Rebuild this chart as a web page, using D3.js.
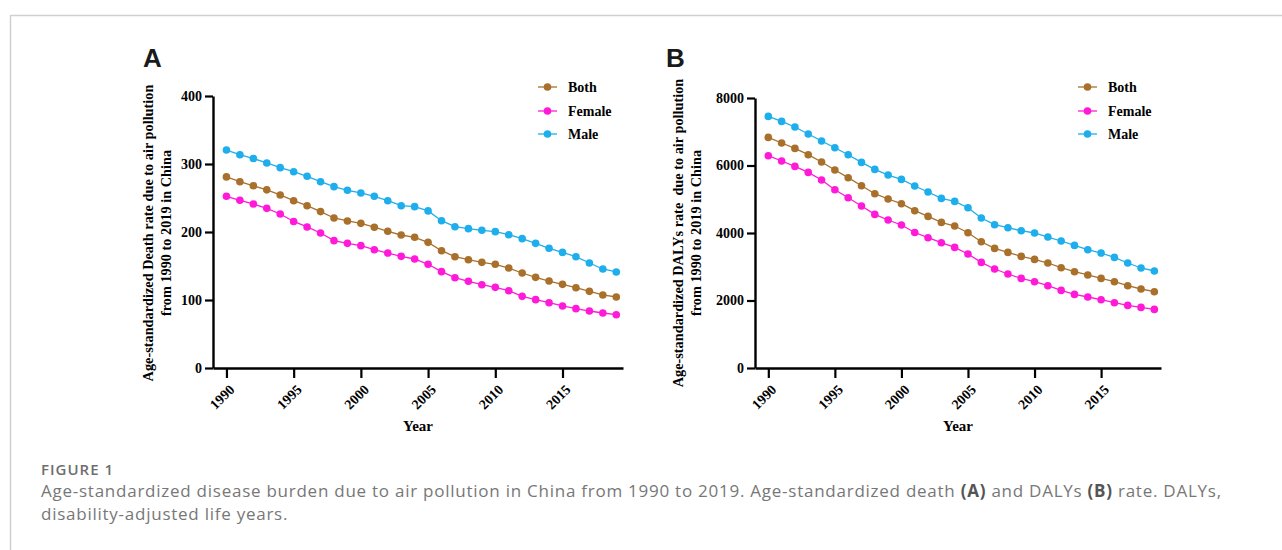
<!DOCTYPE html>
<html><head><meta charset="utf-8">
<script src="https://cdn.jsdelivr.net/npm/d3@7"></script>
<style>
html,body{margin:0;padding:0;background:#fff;}
svg{display:block;}
</style></head>
<body>
<svg id="c" width="1282" height="550"></svg>
<script>
const years = d3.range(1990, 2020);
const seriesNames = ["Both", "Female", "Male"];
const seriesColors = ["#A8702A", "#FF1AD9", "#1EAEEC"];

// Panel A: age-standardized death rate
const deathBoth = [281,274,268,262,254.5,246,238.7,230,220.6,216.2,212.7,207,201,195.6,192.2,184.8,172.5,163.7,159.3,155.4,152.5,147,139.7,133.3,127.9,123,118.1,112.7,107.4,104.4];
const deathFemale = [252.5,246.6,241.2,234.8,226.5,215.5,207.4,198.5,187.3,183.3,179.9,174,169.1,164.2,160.3,152.5,141.7,132.8,127.5,122.5,118.6,113.7,105.4,100.5,96,91.2,87.3,83.8,80.9,78.4];
const deathMale = [320.5,313.7,308,301.5,294.6,288.7,281.9,274,266.7,261.3,257.4,252.5,246,238.7,237.3,231,216.6,207.8,204.9,202.5,200.5,196,190.2,183.3,176,170,163.7,154.4,145.6,141.2];

// Panel B: age-standardized DALYs rate
const dalyBoth = [6833,6667,6507,6320,6104,5867,5639,5401,5164,5007,4868,4661,4492,4314,4207,4009,3742,3544,3425,3307,3218,3111,2972,2853,2756,2655,2557,2439,2341,2261];
const dalyFemale = [6290,6133,5973,5796,5570,5283,5046,4800,4551,4385,4237,4015,3861,3713,3574,3378,3129,2933,2785,2655,2557,2439,2299,2181,2104,2024,1935,1855,1796,1736];
const dalyMale = [7455,7307,7141,6933,6726,6527,6320,6092,5885,5718,5588,5393,5215,5025,4936,4750,4444,4246,4157,4068,4000,3881,3763,3633,3505,3407,3277,3111,2963,2874];

const xTicks = [1990, 1995, 2000, 2005, 2010, 2015];
const deathTicks = [0, 100, 200, 300, 400];
const dalyTicks = [0, 2000, 4000, 6000, 8000];

const svg = d3.select("#c");
const serif = "'Liberation Serif','Times New Roman',serif";

// frame
svg.append("line").attr("x1",10).attr("x2",1282).attr("y1",15.5).attr("y2",15.5).attr("stroke","#d0d0d0").attr("stroke-width",1.5);
svg.append("line").attr("x1",10.5).attr("x2",10.5).attr("y1",15).attr("y2",550).attr("stroke","#d0d0d0").attr("stroke-width",1.5);

function panel(opt){
  const g = svg.append("g");
  const x = d3.scaleLinear().domain([1989, 2019.5]).range(opt.xr);
  const y = d3.scaleLinear().domain(opt.ydom).range([368, opt.ytop]);

  g.append("text").attr("x", opt.letterX).attr("y", 67).text(opt.letter)
    .attr("font-family","'Liberation Sans',Arial,sans-serif").attr("font-weight","bold")
    .attr("font-size", 26).attr("fill","#1a1a1a");

  const ya = g.append("g").attr("transform", `translate(${opt.xr[0]},0)`)
    .call(d3.axisLeft(y).tickValues(opt.yticks).tickSize(8).tickSizeOuter(0).tickPadding(3).tickFormat(d3.format("d")));
  const xa = g.append("g").attr("transform", `translate(0,368)`)
    .call(d3.axisBottom(x).tickValues(xTicks).tickSize(10).tickSizeOuter(0).tickFormat(d3.format("d")));
  [ya, xa].forEach(a => {
    a.select(".domain").attr("stroke","#000").attr("stroke-width",2.4);
    a.selectAll(".tick line").attr("stroke","#000").attr("stroke-width",2.2);
    a.selectAll("text").attr("font-family", serif).attr("font-weight","bold").attr("font-size",14).attr("fill","#000");
  });
  xa.selectAll(".tick text").attr("text-anchor","end").attr("dy","0.35em")
    .attr("transform","translate(5,19) rotate(-45)").attr("y",0).attr("x",0);

  g.append("text").attr("x", (opt.xr[0]+opt.xr[1])/2).attr("y", 431).attr("text-anchor","middle")
    .attr("font-family", serif).attr("font-weight","bold").attr("font-size",15).text("Year");
  const yt = g.append("text").attr("transform", `translate(${opt.ytx},233) rotate(-90)`).attr("text-anchor","middle")
    .attr("font-family", serif).attr("font-weight","bold").attr("font-size",14.3);
  yt.append("tspan").attr("x",0).attr("y",0).text(opt.ytitle1).style("white-space","pre");
  yt.append("tspan").attr("x",0).attr("y",18).text(opt.ytitle2);

  const line = d3.line().x((d,i)=>x(years[i])).y(d=>y(d));
  opt.series.forEach((vals, k) => {
    g.append("path").datum(vals).attr("d", line).attr("fill","none")
      .attr("stroke", seriesColors[k]).attr("stroke-width",1.3);
    g.selectAll(null).data(vals).enter().append("circle")
      .attr("cx",(d,i)=>x(years[i])).attr("cy",d=>y(d)).attr("r",3.8).attr("fill",seriesColors[k]);
  });

  const ly = [87, 111, 134];
  seriesNames.forEach((n,k) => {
    g.append("line").attr("x1",opt.legX).attr("x2",opt.legX+19).attr("y1",ly[k]).attr("y2",ly[k])
      .attr("stroke",seriesColors[k]).attr("stroke-width",1.3);
    g.append("circle").attr("cx",opt.legX+9.5).attr("cy",ly[k]).attr("r",3.8).attr("fill",seriesColors[k]);
    g.append("text").attr("x",opt.legX+30).attr("y",ly[k]).attr("dy","0.35em")
      .attr("font-family", serif).attr("font-weight","bold").attr("font-size",14).text(n);
  });
}

panel({xr:[213,623], ydom:[0,400], ytop:96, yticks:deathTicks, letter:"A", letterX:143,
  ytx:153, ytitle1:"Age-standardized Death rate due to air pollution", ytitle2:"from 1990 to 2019 in China",
  series:[deathBoth, deathFemale, deathMale], legX:538});
panel({xr:[755,1161], ydom:[0,8000], ytop:98, yticks:dalyTicks, letter:"B", letterX:666,
  ytx:683, ytitle1:"Age-standardized DALYs rate  due to air pollution", ytitle2:"from 1990 to 2019 in China",
  series:[dalyBoth, dalyFemale, dalyMale], legX:1078});

// caption
const cap = "'Open Sans','Noto Sans',sans-serif";
svg.append("text").attr("x",41).attr("y",475).attr("font-family",cap).attr("font-weight",600)
  .attr("font-size",15).attr("letter-spacing",1).attr("fill","#6e6e6e").text("FIGURE 1");
const c1 = svg.append("text").attr("x",41).attr("y",497).attr("font-family",cap).attr("font-size",17)
  .attr("letter-spacing",0.75).attr("fill","#777");
c1.append("tspan").text("Age-standardized disease burden due to air pollution in China from 1990 to 2019. Age-standardized death ");
c1.append("tspan").attr("font-weight",700).attr("fill","#555").text("(A)");
c1.append("tspan").text(" and DALYs ");
c1.append("tspan").attr("font-weight",700).attr("fill","#555").text("(B)");
c1.append("tspan").text(" rate. DALYs,");
svg.append("text").attr("x",41).attr("y",520).attr("font-family",cap).attr("font-size",17)
  .attr("letter-spacing",0.75).attr("fill","#777").text("disability-adjusted life years.");
</script>
</body></html>
